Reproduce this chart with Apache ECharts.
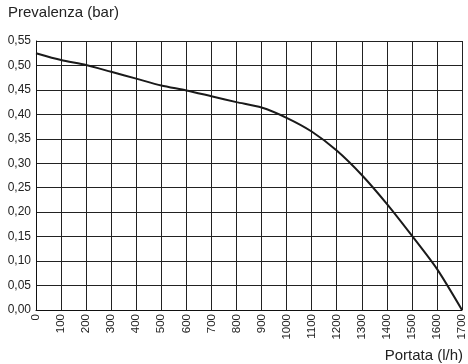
<!DOCTYPE html>
<html>
<head>
<meta charset="utf-8">
<style>
  html, body { margin: 0; padding: 0; background: #fff; }
  #chart { width: 468px; height: 364px; }
</style>
<script src="https://cdn.jsdelivr.net/npm/echarts@6/dist/echarts.min.js"></script>
</head>
<body>
<div id="chart"></div>
<script>
// Pump characteristic curve: head (bar) vs flow rate (l/h)
const flowRates = [0, 100, 200, 300, 400, 500, 600, 700, 800, 900, 1000, 1100, 1200, 1300, 1400, 1500, 1600, 1700];
const headBar   = [0.525, 0.511, 0.501, 0.487, 0.473, 0.459, 0.449, 0.437, 0.425, 0.414, 0.393, 0.365, 0.326, 0.276, 0.217, 0.152, 0.084, 0.0];
const yAxisTitle = 'Prevalenza (bar)';
const xAxisTitle = 'Portata (l/h)';

const chart = echarts.init(document.getElementById('chart'), null, { renderer: 'canvas' });
const fontFamily = '"Liberation Sans", Arial, sans-serif';

chart.setOption({
  animation: false,
  grid: { left: 36, right: 5, top: 41, bottom: 54 },
  graphic: [
    { type: 'text', left: 8, top: 5,
      style: { text: yAxisTitle, font: '15px ' + fontFamily, fill: '#222' } },
    { type: 'text', right: 5, bottom: 1,
      style: { text: xAxisTitle, font: '15px ' + fontFamily, fill: '#222' } }
  ],
  xAxis: {
    type: 'value', min: 0, max: 1700, interval: 100,
    axisLine: { show: true, lineStyle: { color: '#111', width: 1 } },
    axisTick: { show: false },
    splitLine: { show: true, lineStyle: { color: '#222', width: 1 } },
    axisLabel: { rotate: 90, margin: 4, color: '#222', fontSize: 11.5, fontFamily: fontFamily,
      formatter: v => String(v) }
  },
  yAxis: {
    type: 'value', min: 0, max: 0.55, interval: 0.05,
    axisLine: { show: true, lineStyle: { color: '#111', width: 1 } },
    axisTick: { show: false },
    splitLine: { show: true, lineStyle: { color: '#222', width: 1 } },
    axisLabel: { margin: 5, color: '#222', fontSize: 12, fontFamily: fontFamily,
      formatter: v => v.toFixed(2).replace('.', ',') }
  },
  series: [{
    type: 'line',
    data: flowRates.map((x, i) => [x, headBar[i]]),
    smooth: 0.25,
    symbol: 'none',
    lineStyle: { color: '#1a1a1a', width: 2 }
  }]
});
</script>
</body>
</html>
